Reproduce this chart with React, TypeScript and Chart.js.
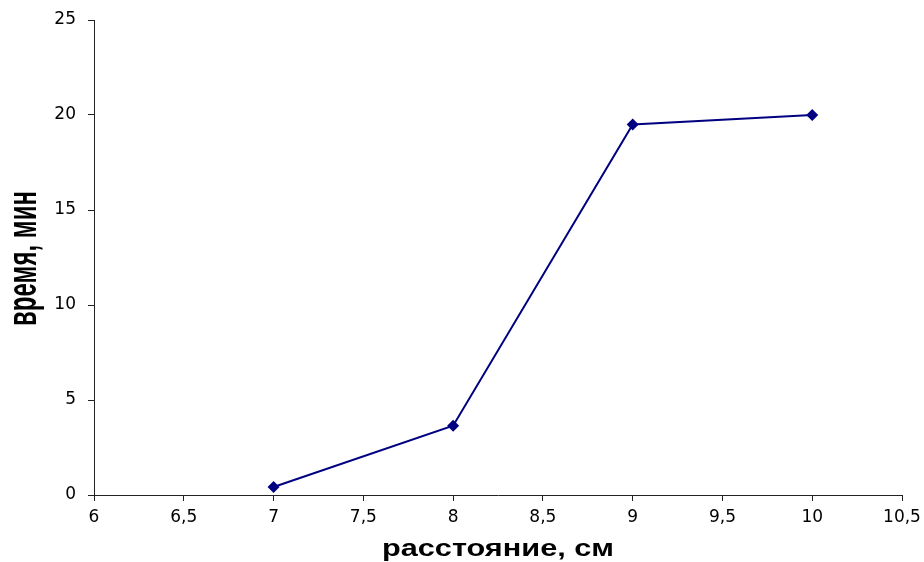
import React, { useEffect, useRef } from "react";
import { Chart, registerables } from "chart.js";

Chart.register(...registerables);

const distances: number[] = [7, 8, 9, 10];
const times: number[] = [0.42, 3.65, 19.5, 20];

const X_MIN = 6;
const X_MAX = 10.5;
const X_STEP = 0.5;
const Y_MIN = 0;
const Y_MAX = 25;
const Y_STEP = 5;

const X_TITLE = "расстояние, см";
const Y_TITLE = "время, мин";

const fmt = (v: number | string) => String(v).replace(".", ",");

const titlePlugin = {
  id: "stretchedTitles",
  afterDraw(chart: any) {
    const ctx = chart.ctx as CanvasRenderingContext2D;
    const area = chart.chartArea;
    // X title (stretched horizontally)
    ctx.save();
    ctx.fillStyle = "#000";
    ctx.font = 'bold 23px "Liberation Sans", Arial, sans-serif';
    ctx.textAlign = "center";
    ctx.textBaseline = "alphabetic";
    const wx = ctx.measureText(X_TITLE).width;
    ctx.translate((area.left + area.right) / 2, chart.height - 6);
    ctx.scale(232 / wx, 1);
    ctx.fillText(X_TITLE, 0, 0);
    ctx.restore();
    // Y title (rotated, condensed along text direction)
    ctx.save();
    ctx.fillStyle = "#000";
    ctx.font = 'bold 41px "Liberation Sans", Arial, sans-serif';
    ctx.textAlign = "center";
    ctx.textBaseline = "alphabetic";
    const wy = ctx.measureText(Y_TITLE).width;
    ctx.translate(36, (area.top + area.bottom) / 2 + 1);
    ctx.rotate(-Math.PI / 2);
    ctx.scale(135 / wy, 1);
    ctx.fillText(Y_TITLE, 0, 0);
    ctx.restore();
  },
};

export default function App() {
  const ref = useRef<HTMLCanvasElement | null>(null);
  useEffect(() => {
    if (!ref.current) return;
    const tickFont = { family: '"DejaVu Sans", sans-serif', size: 17 };
    const chart = new Chart(ref.current, {
      type: "line",
      data: {
        datasets: [
          {
            data: distances.map((x, i) => ({ x, y: times[i] })),
            borderColor: "#000080",
            backgroundColor: "#000080",
            borderWidth: 2,
            pointStyle: "rectRot",
            pointRadius: 6,
            pointBorderWidth: 0,
            tension: 0,
            fill: false,
          },
        ],
      },
      options: {
        animation: false,
        responsive: false,
        layout: { padding: { left: 0, right: 22, top: 20, bottom: 0 } },
        plugins: {
          legend: { display: false },
          tooltip: { enabled: false },
          title: { display: false },
        },
        scales: {
          x: {
            type: "linear",
            min: X_MIN,
            max: X_MAX,
            grid: {
              drawOnChartArea: false,
              drawTicks: true,
              tickLength: 6,
              color: "#222",
            },
            border: { display: true, color: "#222", width: 1 },
            ticks: {
              stepSize: X_STEP,
              color: "#000",
              font: tickFont,
              padding: 6,
              maxRotation: 0,
              callback: (v: any) => fmt(v),
            },
            afterFit: (scale: any) => {
              scale.height = 67;
              scale.paddingLeft = 0;
              scale.paddingRight = 0;
            },
          },
          y: {
            min: Y_MIN,
            max: Y_MAX,
            grid: {
              drawOnChartArea: false,
              drawTicks: true,
              tickLength: 6,
              color: "#222",
            },
            border: { display: true, color: "#222", width: 1 },
            ticks: {
              stepSize: Y_STEP,
              color: "#000",
              font: tickFont,
              padding: 12,
              callback: (v: any) => fmt(v),
            },
            afterFit: (scale: any) => {
              scale.width = 94;
              scale.paddingTop = 0;
              scale.paddingBottom = 0;
            },
          },
        },
      },
      plugins: [titlePlugin],
    });
    return () => chart.destroy();
  }, []);
  return (
    <div style={{ position: "absolute", left: 0, top: 0, width: 924, height: 562, background: "#fff" }}>
      <canvas ref={ref} width={924} height={562} style={{ width: 924, height: 562, display: "block" }} />
    </div>
  );
}
